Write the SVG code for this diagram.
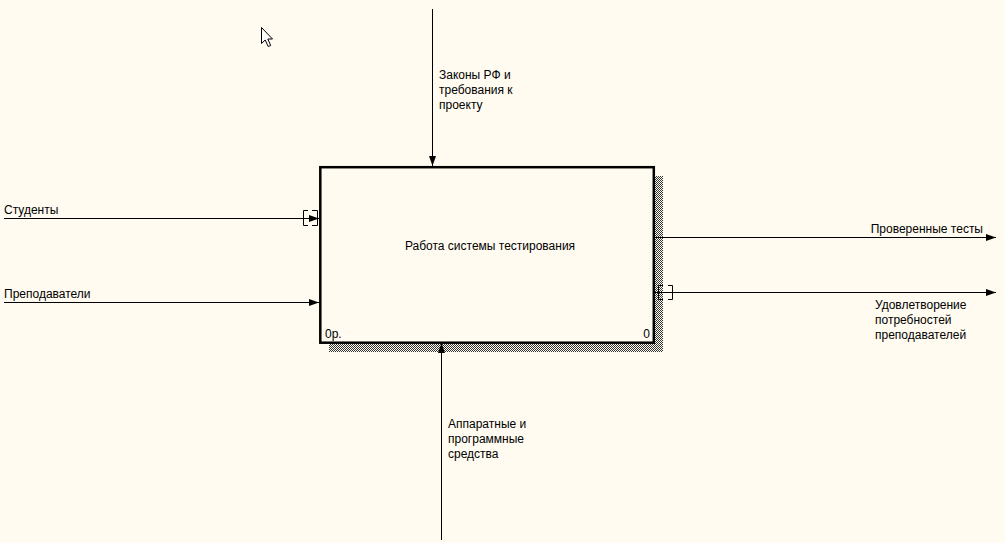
<svg xmlns="http://www.w3.org/2000/svg" width="1005" height="543" viewBox="0 0 1005 543">
<style>
text{font-family:"Liberation Sans",Arial,sans-serif;font-size:12px;fill:#000}
.ln{stroke:#000;stroke-width:1;fill:none}
.br{stroke:#000;stroke-width:1;fill:none}
.px{shape-rendering:crispEdges}
</style>
<defs>
<pattern id="hatch" width="2" height="2" patternUnits="userSpaceOnUse">
<rect class="px" width="2" height="2" fill="#fffbf0"/>
<rect class="px" width="1" height="1" fill="#333"/>
<rect class="px" x="1" y="1" width="1" height="1" fill="#333"/>
</pattern>
<marker id="ah" viewBox="0 0 10 7" refX="10" refY="3.5" markerWidth="10" markerHeight="7" markerUnits="userSpaceOnUse" orient="auto">
<path d="M0,0 L10,3.5 L0,7 Z" fill="#000"/>
</marker>
</defs>
<rect width="1005" height="543" fill="#fffbf0"/>
<g id="node-A0">
<rect class="px" x="655" y="176" width="8" height="176" fill="url(#hatch)"/>
<rect class="px" x="329" y="344" width="334" height="8" fill="url(#hatch)"/>
<rect x="320.3" y="167.2" width="333.5" height="175.5" fill="#fffbf0" stroke="#000" stroke-width="2.5"/>
<text x="490" y="250" text-anchor="middle">Работа системы тестирования</text>
<text x="325" y="338">0р.</text>
<text x="650" y="338" text-anchor="end">0</text>
</g>
<g id="connectors">
<line class="ln" x1="432.5" y1="9" x2="432.5" y2="166" marker-end="url(#ah)"/>
<line class="ln" x1="441.5" y1="540" x2="441.5" y2="343" marker-end="url(#ah)"/>
<line class="ln" x1="4" y1="218.5" x2="319" y2="218.5" marker-end="url(#ah)"/>
<line class="ln" x1="4" y1="302.5" x2="319" y2="302.5" marker-end="url(#ah)"/>
<line class="ln" x1="655" y1="237.5" x2="996" y2="237.5" marker-end="url(#ah)"/>
<line class="ln" x1="655" y1="292.5" x2="996" y2="292.5" marker-end="url(#ah)"/>
<path class="br" d="M308,210.5 H303.5 V225.5 H308 M312,210.5 H317.5 V225.5 H312"/>
<path class="br" d="M663,285.5 H658.5 V299.5 H663 M668,285.5 H672.5 V299.5 H668"/>
<text x="439" y="79">Законы РФ и</text>
<text x="439" y="94">требования к</text>
<text x="439" y="109">проекту</text>
<text x="448" y="428">Аппаратные и</text>
<text x="448" y="443">программные</text>
<text x="448" y="458">средства</text>
<text x="4" y="214">Студенты</text>
<text x="4" y="298">Преподаватели</text>
<text x="983" y="233" text-anchor="end">Проверенные тесты</text>
<text x="875" y="309">Удовлетворение</text>
<text x="875" y="324">потребностей</text>
<text x="875" y="339">преподавателей</text>
</g>
<path d="M261.5,27.5 V43.5 L265.2,40 L268.2,46.5 L270.7,45.5 L267.8,39 L272.5,39 Z" fill="#fff" stroke="#000" stroke-width="1" stroke-linejoin="miter"/>
</svg>
